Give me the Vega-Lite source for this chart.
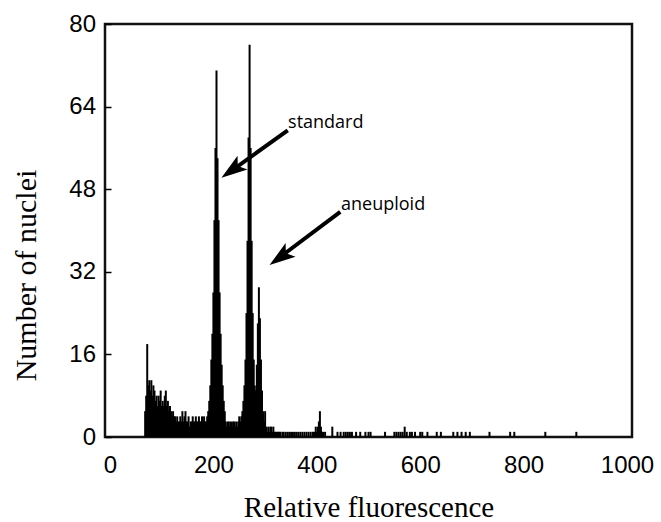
{
  "$schema": "https://vega.github.io/schema/vega-lite/v6.json",
  "width": 527,
  "height": 413,
  "autosize": {"type": "none"},
  "padding": {"left": 105, "top": 24, "right": 29, "bottom": 85},
  "background": "white",
  "config": {
    "view": {"stroke": "#111111", "strokeWidth": 2.5},
    "axis": {"grid": false, "domain": false}
  },
  "datasets": {
    "hist": [
      {"x":68,"y":5},{"x":70,"y":8},{"x":72,"y":18},{"x":74,"y":10},{"x":76,"y":11},{"x":78,"y":9},{"x":80,"y":11},{"x":82,"y":8},{"x":84,"y":10},{"x":86,"y":9},{"x":88,"y":7},{"x":90,"y":8},{"x":92,"y":6},{"x":94,"y":8},{"x":96,"y":7},{"x":98,"y":9},{"x":100,"y":6},{"x":102,"y":7},{"x":104,"y":6},{"x":106,"y":8},{"x":108,"y":9},{"x":110,"y":6},{"x":112,"y":7},{"x":114,"y":5},{"x":116,"y":6},{"x":118,"y":5},{"x":120,"y":4},{"x":122,"y":5},{"x":124,"y":4},{"x":126,"y":4},{"x":128,"y":3},{"x":130,"y":4},{"x":132,"y":3},{"x":134,"y":3},{"x":136,"y":4},{"x":138,"y":3},{"x":140,"y":5},{"x":142,"y":3},{"x":144,"y":4},{"x":146,"y":5},{"x":148,"y":3},{"x":150,"y":3},{"x":152,"y":4},{"x":154,"y":2},{"x":156,"y":3},{"x":158,"y":3},{"x":160,"y":4},{"x":162,"y":3},{"x":164,"y":3},{"x":166,"y":4},{"x":168,"y":3},{"x":170,"y":3},{"x":172,"y":4},{"x":174,"y":3},{"x":176,"y":3},{"x":178,"y":4},{"x":180,"y":3},{"x":182,"y":4},{"x":184,"y":3},{"x":186,"y":3},{"x":188,"y":4},{"x":190,"y":5},{"x":192,"y":7},{"x":194,"y":10},{"x":196,"y":15},{"x":198,"y":20},{"x":200,"y":28},{"x":202,"y":42},{"x":204,"y":56},{"x":206,"y":71},{"x":208,"y":54},{"x":210,"y":42},{"x":212,"y":28},{"x":214,"y":20},{"x":216,"y":14},{"x":218,"y":10},{"x":220,"y":7},{"x":222,"y":5},{"x":224,"y":3},{"x":226,"y":2},{"x":228,"y":3},{"x":230,"y":3},{"x":232,"y":2},{"x":234,"y":3},{"x":236,"y":2},{"x":238,"y":3},{"x":240,"y":3},{"x":242,"y":2},{"x":244,"y":3},{"x":246,"y":2},{"x":248,"y":3},{"x":250,"y":4},{"x":252,"y":3},{"x":254,"y":4},{"x":256,"y":5},{"x":258,"y":7},{"x":260,"y":10},{"x":262,"y":15},{"x":264,"y":24},{"x":266,"y":38},{"x":268,"y":58},{"x":270,"y":76},{"x":272,"y":56},{"x":274,"y":38},{"x":276,"y":24},{"x":278,"y":15},{"x":280,"y":10},{"x":282,"y":9},{"x":284,"y":14},{"x":286,"y":22},{"x":288,"y":29},{"x":290,"y":23},{"x":292,"y":15},{"x":294,"y":9},{"x":296,"y":5},{"x":298,"y":3},{"x":300,"y":5},{"x":302,"y":2},{"x":304,"y":1},{"x":306,"y":2},{"x":308,"y":1},{"x":310,"y":2},{"x":312,"y":2},{"x":314,"y":1},{"x":316,"y":2},{"x":318,"y":1},{"x":320,"y":1},{"x":322,"y":1},{"x":324,"y":1},{"x":326,"y":1},{"x":328,"y":1},{"x":330,"y":1},{"x":334,"y":1},{"x":336,"y":1},{"x":340,"y":1},{"x":344,"y":1},{"x":348,"y":1},{"x":352,"y":1},{"x":356,"y":1},{"x":360,"y":1},{"x":364,"y":1},{"x":368,"y":1},{"x":372,"y":1},{"x":376,"y":1},{"x":380,"y":1},{"x":384,"y":1},{"x":388,"y":1},{"x":392,"y":1},{"x":394,"y":1},{"x":396,"y":1},{"x":398,"y":2},{"x":400,"y":1},{"x":402,"y":2},{"x":404,"y":3},{"x":406,"y":5},{"x":408,"y":2},{"x":410,"y":1},{"x":412,"y":1},{"x":416,"y":1},
      {"x":430,"y":2},{"x":440,"y":1},{"x":446,"y":1},{"x":452,"y":1},{"x":456,"y":1},{"x":460,"y":1},{"x":464,"y":1},{"x":468,"y":1},{"x":476,"y":1},{"x":484,"y":1},{"x":494,"y":1},{"x":500,"y":1},{"x":504,"y":1},{"x":532,"y":1},{"x":550,"y":1},{"x":554,"y":1},{"x":558,"y":1},{"x":562,"y":1},{"x":566,"y":1},{"x":570,"y":2},{"x":574,"y":1},{"x":580,"y":1},{"x":584,"y":1},{"x":590,"y":1},{"x":600,"y":1},{"x":604,"y":1},{"x":614,"y":1},{"x":632,"y":1},{"x":640,"y":1},{"x":664,"y":1},{"x":672,"y":1},{"x":680,"y":1},{"x":688,"y":1},{"x":696,"y":1},{"x":734,"y":1},{"x":774,"y":1},{"x":782,"y":1},{"x":842,"y":1},{"x":902,"y":1}
    ],
    "arrows": [
      {"label": "standard", "x": 343.8, "y": 59.4, "xe": 243.5, "ye": 52.2, "tx": 215.6, "ty": 50.2, "lx": 344.4, "ly": 59.9},
      {"label": "aneuploid", "x": 445.4, "y": 43.6, "xe": 336.2, "ye": 35.4, "tx": 308.6, "ty": 33.3, "lx": 446.9, "ly": 44.0}
    ]
  },
  "layer": [
    {
      "data": {"name": "hist"},
      "mark": {"type": "bar", "width": 2, "color": "black"},
      "encoding": {
        "x": {
          "field": "x", "type": "quantitative",
          "scale": {"domain": [0, 1000], "nice": false, "zero": true},
          "axis": {
            "values": [0, 200, 400, 600, 800, 1000],
            "format": "d",
            "ticks": false,
            "labelPadding": 16,
            "labelFlush": false,
            "labelOverlap": false,
            "labelFont": "Liberation Sans",
            "labelFontSize": 24,
            "labelColor": "black",
            "title": "Relative fluorescence",
            "titleFont": "Liberation Serif",
            "titleFontSize": 29,
            "titleFontWeight": "normal",
            "titleColor": "black",
            "titleBaseline": "alphabetic",
            "titleY": 79
          }
        },
        "y": {
          "field": "y", "type": "quantitative",
          "scale": {"domain": [0, 80], "nice": false},
          "axis": {
            "values": [0, 16, 32, 48, 64, 80],
            "format": "d",
            "tickSize": -6,
            "tickColor": "black",
            "tickWidth": 1.5,
            "labelPadding": 15.5,
            "labelFlush": false,
            "labelOverlap": false,
            "labelFont": "Liberation Sans",
            "labelFontSize": 24,
            "labelColor": "black",
            "title": "Number of nuclei",
            "titleFont": "Liberation Serif",
            "titleFontSize": 30,
            "titleFontWeight": "normal",
            "titleColor": "black",
            "titleBaseline": "alphabetic",
            "titleAlign": "center",
            "titleAngle": -90,
            "titleX": -70,
            "titleY": 251
          }
        }
      }
    },
    {
      "data": {"name": "arrows"},
      "mark": {"type": "rule", "color": "black", "strokeWidth": 4},
      "encoding": {
        "x": {"field": "x", "type": "quantitative"},
        "y": {"field": "y", "type": "quantitative"},
        "x2": {"field": "xe"},
        "y2": {"field": "ye"}
      }
    },
    {
      "data": {"name": "arrows"},
      "mark": {"type": "point", "shape": "M0,0 L-2,-0.65 L-1.55,0 L-2,0.65 Z", "filled": true, "color": "black", "opacity": 1, "size": 676, "angle": 144, "strokeWidth": 0},
      "encoding": {
        "x": {"field": "tx", "type": "quantitative"},
        "y": {"field": "ty", "type": "quantitative"}
      }
    },
    {
      "data": {"name": "arrows"},
      "mark": {"type": "text", "align": "left", "baseline": "alphabetic", "font": "Open Sans", "fontSize": 18, "color": "black"},
      "encoding": {
        "x": {"field": "lx", "type": "quantitative"},
        "y": {"field": "ly", "type": "quantitative"},
        "text": {"field": "label"}
      }
    }
  ]
}
